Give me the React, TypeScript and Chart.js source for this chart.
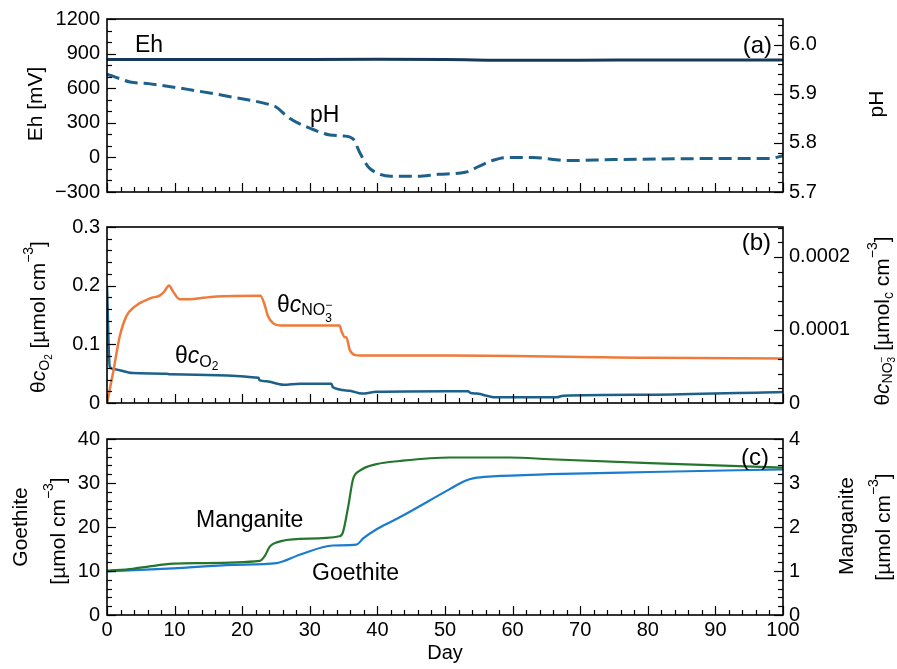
import React, { useEffect, useRef } from "react";
import { Chart, registerables } from "chart.js";
Chart.register(...registerables);

const W = 897;
const H = 669;
const FONT = "'Liberation Sans', Arial, Helvetica, sans-serif";

// ---------- x axis ----------
const xMin = 0;
const xMax = 100;
const xMajorTicks = [0, 10, 20, 30, 40, 50, 60, 70, 80, 90, 100];
const xTickLabels = ["0", "10", "20", "30", "40", "50", "60", "70", "80", "90", "100"];
const xMinorStep = 2;

// ---------- Panel (a) ----------
const ehDays = [0, 20, 40, 50, 60, 70, 85, 100];
const ehValues = [848, 848, 850, 849, 842, 843, 845, 845];
const phDays = [0, 2, 3.4, 6.4, 12.3, 18.2, 24, 25, 27, 30, 33, 35, 36.4, 37.4, 38.6, 40, 42, 46, 49, 53, 55, 57, 59, 63, 68, 75, 90, 98, 100];
const phValues = [5.94, 5.93, 5.924, 5.92, 5.908, 5.894, 5.878, 5.873, 5.85, 5.83, 5.816, 5.814, 5.808, 5.78, 5.752, 5.738, 5.732, 5.732, 5.736, 5.74, 5.752, 5.764, 5.77, 5.77, 5.764, 5.766, 5.768, 5.768, 5.774];
const ehTicks = [-300, 0, 300, 600, 900, 1200];
const ehTickLabels = ["\u2212300", "0", "300", "600", "900", "1200"];
const phTicks = [5.7, 5.8, 5.9, 6.0];
const phTickLabels = ["5.7", "5.8", "5.9", "6.0"];

// ---------- Panel (b) ----------
const no3Days = [0, 0.89, 1.88, 2.87, 4.1, 5.33, 6.57, 7.8, 8.5, 9.17, 9.75, 10.75, 11.7, 16.2, 22.4, 22.7, 23.4, 23.8, 24.6, 25.8, 34.4, 34.7, 35.2, 35.4, 35.9, 36.6, 37.4, 50.7, 80, 100];
const no3Values = [0, 0.41e-4, 0.91e-4, 1.19e-4, 1.32e-4, 1.39e-4, 1.44e-4, 1.47e-4, 1.53e-4, 1.61e-4, 1.53e-4, 1.42e-4, 1.42e-4, 1.46e-4, 1.47e-4, 1.47e-4, 1.32e-4, 1.19e-4, 1.09e-4, 1.06e-4, 1.06e-4, 0.98e-4, 0.9e-4, 0.9e-4, 0.73e-4, 0.66e-4, 0.65e-4, 0.65e-4, 0.62e-4, 0.61e-4];
const o2Days = [0, 0.4, 0.9, 3.8, 8.8, 9.3, 22.4, 22.6, 23.6, 26.1, 28.5, 33.2, 33.4, 35.9, 37.7, 39.9, 50.7, 53.4, 53.8, 54.7, 57.6, 66.5, 67.5, 80.3, 97.1, 100];
const o2Values = [0.199, 0.062, 0.058, 0.051, 0.05, 0.049, 0.043, 0.0385, 0.037, 0.031, 0.033, 0.033, 0.027, 0.021, 0.016, 0.019, 0.02, 0.02, 0.017, 0.016, 0.0096, 0.0096, 0.0125, 0.014, 0.018, 0.0187];
const o2Ticks = [0, 0.1, 0.2, 0.3];
const o2TickLabels = ["0", "0.1", "0.2", "0.3"];
const no3Ticks = [0, 0.0001, 0.0002];
const no3TickLabels = ["0", "0.0001", "0.0002"];

// ---------- Panel (c) ----------
const goethiteDays = [0, 9.8, 18.7, 25.1, 28.5, 33.4, 36.9, 37.9, 40, 43.3, 50.7, 53, 54.3, 57, 65.5, 80.3, 100];
const goethiteValues = [9.9, 10.6, 11.4, 11.8, 13.7, 15.8, 16.0, 17.4, 19.6, 22.2, 28.6, 30.5, 31.1, 31.5, 32.0, 32.5, 33.1];
const manganiteDays = [0, 3.8, 6.3, 9.8, 13.7, 22.6, 23.3, 24.1, 25.1, 28.5, 34.4, 34.9, 35.7, 36.4, 37.4, 39.9, 43.3, 50.7, 59.6, 65.5, 80.3, 100];
const manganiteValues = [1.006, 1.05, 1.105, 1.166, 1.18, 1.23, 1.33, 1.56, 1.65, 1.73, 1.79, 1.88, 2.48, 3.09, 3.28, 3.43, 3.5, 3.58, 3.58, 3.54, 3.45, 3.35];
const goethiteTicks = [0, 10, 20, 30, 40];
const goethiteTickLabels = ["0", "10", "20", "30", "40"];
const manganiteTicks = [0, 1, 2, 3, 4];
const manganiteTickLabels = ["0", "1", "2", "3", "4"];

type Seg = { t: string; s: number; dy?: number; it?: boolean; adv?: boolean };

function segFont(g: Seg) {
  return `${g.it ? "italic " : ""}${g.s}px ${FONT}`;
}

function drawRich(ctx: CanvasRenderingContext2D, segs: Seg[], x: number, y: number, rot: number, align: "left" | "center" | "right") {
  ctx.save();
  ctx.translate(x, y);
  if (rot) ctx.rotate(rot);
  ctx.textBaseline = "alphabetic";
  ctx.textAlign = "left";
  ctx.fillStyle = "#000";
  let total = 0;
  for (const g of segs) {
    ctx.font = segFont(g);
    if (g.adv !== false) total += ctx.measureText(g.t).width;
  }
  let cx = align === "center" ? -total / 2 : align === "right" ? -total : 0;
  for (const g of segs) {
    ctx.font = segFont(g);
    ctx.fillText(g.t, cx, g.dy || 0);
    if (g.adv !== false) cx += ctx.measureText(g.t).width;
  }
  ctx.restore();
}

const ROT = -Math.PI / 2;

type AxisSpec = { min: number; max: number; ticks: number[]; labels: string[]; minor: number };

function pts(xs: number[], ys: number[]) {
  return xs.map((x, i) => ({ x, y: ys[i] }));
}

function minorList(a: { min: number; max: number; minor: number }) {
  const out: number[] = [];
  for (let i = 0; a.min + i * a.minor <= a.max + 1e-12; i++) out.push(a.min + i * a.minor);
  return out;
}

function yScale(a: AxisSpec, position: "left" | "right", width: number, pad: number) {
  return {
    type: "linear",
    position,
    min: a.min,
    max: a.max,
    grid: { display: false, drawTicks: false },
    border: { display: false },
    afterFit: (s: any) => {
      s.width = width;
    },
    afterBuildTicks: (s: any) => {
      s.ticks = a.ticks.map((v) => ({ value: v }));
    },
    ticks: {
      padding: pad,
      color: "#000",
      font: { family: FONT, size: 20 },
      callback: (v: number) => {
        const i = a.ticks.findIndex((t) => Math.abs(t - v) < 1e-12);
        return i >= 0 ? a.labels[i] : "";
      },
    },
  };
}

type PanelSpec = {
  top: number;
  bottom: number;
  showX: boolean;
  left: AxisSpec;
  right: AxisSpec;
  datasets: any[];
  texts: (ctx: CanvasRenderingContext2D) => void;
};

function makeChart(canvas: HTMLCanvasElement, p: PanelSpec) {
  const xAxis: AxisSpec = { min: xMin, max: xMax, ticks: xMajorTicks, labels: xTickLabels, minor: xMinorStep };
  const deco = {
    id: "deco",
    afterDatasetsDraw(chart: any) {
      const { ctx, chartArea: a, scales } = chart;
      ctx.save();
      ctx.strokeStyle = "#000";
      ctx.lineWidth = 1.2;
      const MAJ = 9;
      const MIN = 5;
      const xs = scales.x;
      for (const v of minorList(xAxis)) {
        const isMaj = xAxis.ticks.some((t) => Math.abs(t - v) < 1e-9);
        const px = Math.round(xs.getPixelForValue(v)) + 0.5;
        ctx.beginPath();
        ctx.moveTo(px, a.bottom);
        ctx.lineTo(px, a.bottom - (isMaj ? MAJ : MIN));
        ctx.stroke();
      }
      const sides: [any, AxisSpec, number, number][] = [
        [scales.y, p.left, a.left, 1],
        [scales.y2, p.right, a.right, -1],
      ];
      for (const [sc, spec, x0, dir] of sides) {
        for (const v of minorList(spec)) {
          const isMaj = spec.ticks.some((t) => Math.abs(t - v) < 1e-9 * Math.max(1, Math.abs(spec.max)));
          const py = Math.round(sc.getPixelForValue(v)) + 0.5;
          ctx.beginPath();
          ctx.moveTo(x0, py);
          ctx.lineTo(x0 + dir * (isMaj ? MAJ : MIN), py);
          ctx.stroke();
        }
      }
      ctx.lineWidth = 1.6;
      ctx.strokeRect(a.left, a.top, a.right - a.left, a.bottom - a.top);
      if (p.showX) {
        ctx.fillStyle = "#000";
        ctx.font = `20px ${FONT}`;
        ctx.textAlign = "center";
        ctx.textBaseline = "alphabetic";
        xAxis.ticks.forEach((v, i) => {
          ctx.fillText(xAxis.labels[i], xs.getPixelForValue(v), a.bottom + 21);
        });
      }
      ctx.restore();
      p.texts(ctx);
    },
  };

  return new Chart(canvas, {
    type: "line",
    data: { datasets: p.datasets },
    options: {
      responsive: false,
      animation: false,
      devicePixelRatio: 1,
      layout: { padding: { top: p.top, bottom: H - p.bottom, left: 0, right: 0 } },
      plugins: { legend: { display: false }, tooltip: { enabled: false }, title: { display: false } },
      elements: { point: { radius: 0 } },
      scales: {
        x: {
          type: "linear",
          position: "bottom",
          min: xMin,
          max: xMax,
          grid: { display: false, drawTicks: false },
          border: { display: false },
          afterFit: (s: any) => {
            s.height = 0;
          },
          ticks: { display: false },
        },
        y: yScale(p.left, "left", 107, 7),
        y2: yScale(p.right, "right", W - 783, 6),
      },
    } as any,
    plugins: [deco],
  });
}

const lineBase = { pointRadius: 0, cubicInterpolationMode: "monotone", fill: false };

const panelA: PanelSpec = {
  top: 16,
  bottom: 192,
  showX: false,
  left: { min: -300, max: 1200, ticks: ehTicks, labels: ehTickLabels, minor: 100 },
  right: { min: 5.7, max: 6.052, ticks: phTicks, labels: phTickLabels, minor: 0.02 },
  datasets: [
    { ...lineBase, label: "Eh", data: pts(ehDays, ehValues), yAxisID: "y", borderColor: "#17385a", borderWidth: 3 },
    { ...lineBase, label: "pH", data: pts(phDays, phValues), yAxisID: "y2", borderColor: "#1d6089", borderWidth: 3, borderDash: [13, 6] },
  ],
  texts: (ctx) => {
    drawRich(ctx, [{ t: "Eh [mV]", s: 21 }], 42, 104, ROT, "center");
    drawRich(ctx, [{ t: "pH", s: 21 }], 883, 104, ROT, "center");
    drawRich(ctx, [{ t: "Eh", s: 23 }], 135, 52, 0, "left");
    drawRich(ctx, [{ t: "pH", s: 23 }], 310, 122, 0, "left");
    drawRich(ctx, [{ t: "(a)", s: 24 }], 772, 53, 0, "right");
  },
};

const panelB: PanelSpec = {
  top: 227,
  bottom: 403,
  showX: false,
  left: { min: 0, max: 0.3, ticks: o2Ticks, labels: o2TickLabels, minor: 0.02 },
  right: { min: 0, max: 0.000241, ticks: no3Ticks, labels: no3TickLabels, minor: 0.00002 },
  datasets: [
    { ...lineBase, label: "NO3", data: pts(no3Days, no3Values), yAxisID: "y2", borderColor: "#ef7a3a", borderWidth: 2.5 },
    { ...lineBase, label: "O2", data: pts(o2Days, o2Values), yAxisID: "y", borderColor: "#1d6089", borderWidth: 2.5 },
  ],
  texts: (ctx) => {
    drawRich(
      ctx,
      [
        { t: "\u03b8", s: 21 },
        { t: "c", s: 21, it: true },
        { t: "O", s: 14, dy: 4 },
        { t: "2", s: 10, dy: 7 },
        { t: " [\u00b5mol cm", s: 21 },
        { t: "\u22123", s: 14, dy: -12 },
        { t: "]", s: 21 },
      ],
      45,
      317,
      ROT,
      "center"
    );
    drawRich(
      ctx,
      [
        { t: "\u03b8", s: 21 },
        { t: "c", s: 21, it: true },
        { t: "NO", s: 14, dy: 3 },
        { t: "3", s: 10, dy: 6, adv: false },
        { t: "\u2212", s: 10, dy: -4 },
        { t: " [\u00b5mol", s: 21 },
        { t: "c", s: 14, dy: 4 },
        { t: " cm", s: 21 },
        { t: "\u22123", s: 14, dy: -12 },
        { t: "]", s: 21 },
      ],
      889,
      321,
      ROT,
      "center"
    );
    drawRich(
      ctx,
      [
        { t: "\u03b8", s: 23 },
        { t: "c", s: 23, it: true },
        { t: "NO", s: 16, dy: 3 },
        { t: "3", s: 12, dy: 10, adv: false },
        { t: "\u2212", s: 12, dy: -3 },
      ],
      277,
      312,
      0,
      "left"
    );
    drawRich(
      ctx,
      [
        { t: "\u03b8", s: 23 },
        { t: "c", s: 23, it: true },
        { t: "O", s: 16, dy: 4 },
        { t: "2", s: 12, dy: 7 },
      ],
      175,
      363,
      0,
      "left"
    );
    drawRich(ctx, [{ t: "(b)", s: 24 }], 771, 250, 0, "right");
  },
};

const panelC: PanelSpec = {
  top: 439,
  bottom: 615,
  showX: true,
  left: { min: 0, max: 40, ticks: goethiteTicks, labels: goethiteTickLabels, minor: 2 },
  right: { min: 0, max: 4, ticks: manganiteTicks, labels: manganiteTickLabels, minor: 0.2 },
  datasets: [
    { ...lineBase, label: "Manganite", data: pts(manganiteDays, manganiteValues), yAxisID: "y2", borderColor: "#23762b", borderWidth: 2.2 },
    { ...lineBase, label: "Goethite", data: pts(goethiteDays, goethiteValues), yAxisID: "y", borderColor: "#1b7bd0", borderWidth: 2.2 },
  ],
  texts: (ctx) => {
    drawRich(ctx, [{ t: "Goethite", s: 21 }], 27, 527, ROT, "center");
    drawRich(
      ctx,
      [
        { t: "[\u00b5mol cm", s: 21 },
        { t: "\u22123", s: 14, dy: -12 },
        { t: "]", s: 21 },
      ],
      65,
      531,
      ROT,
      "center"
    );
    drawRich(ctx, [{ t: "Manganite", s: 21 }], 853, 526, ROT, "center");
    drawRich(
      ctx,
      [
        { t: "[\u00b5mol cm", s: 21 },
        { t: "\u22123", s: 14, dy: -12 },
        { t: "]", s: 21 },
      ],
      890,
      527,
      ROT,
      "center"
    );
    drawRich(ctx, [{ t: "Manganite", s: 23 }], 196, 527, 0, "left");
    drawRich(ctx, [{ t: "Goethite", s: 23 }], 312, 580, 0, "left");
    drawRich(ctx, [{ t: "(c)", s: 24 }], 769, 465, 0, "right");
    drawRich(ctx, [{ t: "Day", s: 20 }], 445, 659, 0, "center");
  },
};

function Panel({ spec }: { spec: PanelSpec }) {
  const ref = useRef<HTMLCanvasElement | null>(null);
  useEffect(() => {
    if (!ref.current) return;
    const chart = makeChart(ref.current, spec);
    return () => chart.destroy();
  }, [spec]);
  return <canvas ref={ref} width={W} height={H} style={{ position: "absolute", left: 0, top: 0, width: W, height: H }} />;
}

export default function App() {
  return (
    <div style={{ position: "fixed", left: 0, top: 0, width: W, height: H, background: "#fff", overflow: "hidden" }}>
      <Panel spec={panelA} />
      <Panel spec={panelB} />
      <Panel spec={panelC} />
    </div>
  );
}
